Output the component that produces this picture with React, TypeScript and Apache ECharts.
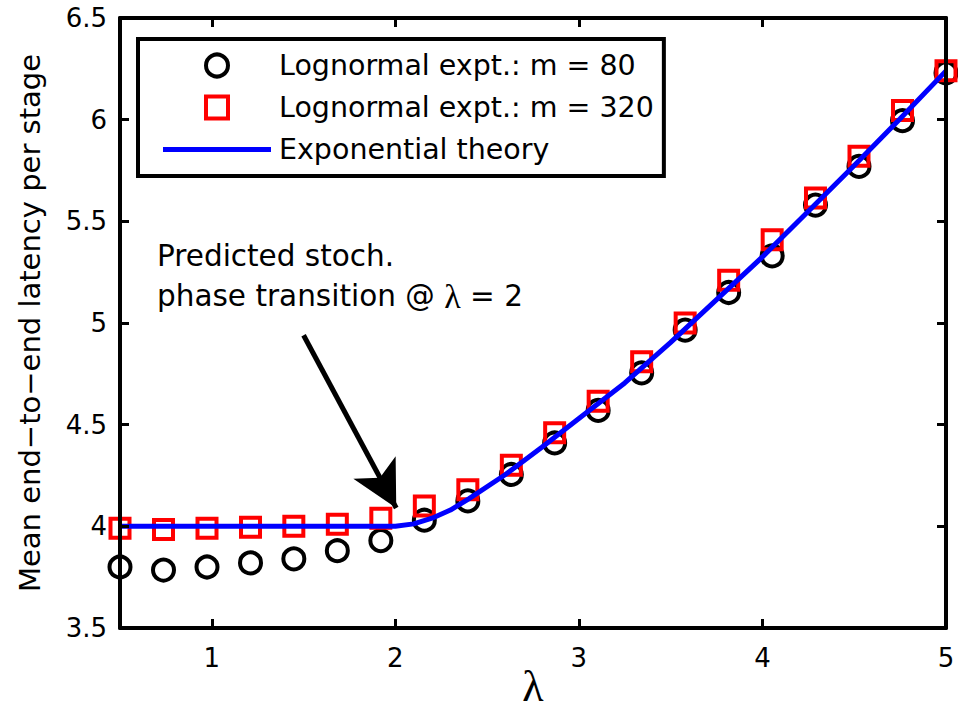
import React, { useEffect, useRef } from "react";
import * as echarts from "echarts";

// lambda values of the experiments
const lambdaX = [0.5, 0.737, 0.974, 1.211, 1.447, 1.684, 1.921, 2.158, 2.395, 2.632, 2.868, 3.105, 3.342, 3.579, 3.816, 4.053, 4.289, 4.526, 4.763, 5.0];
// Lognormal expt., m = 80
const m80 = [3.8, 3.785, 3.8, 3.82, 3.84, 3.88, 3.93, 4.03, 4.125, 4.255, 4.41, 4.57, 4.755, 4.965, 5.15, 5.33, 5.58, 5.77, 5.995, 6.23];
// Lognormal expt., m = 320
const m320 = [3.99, 3.985, 3.99, 3.995, 4.0, 4.01, 4.04, 4.1, 4.18, 4.3, 4.46, 4.615, 4.81, 5.0, 5.21, 5.41, 5.615, 5.82, 6.045, 6.24];
// Exponential theory curve
const theoryX = [0.5, 1.0, 1.5, 1.9, 2.0, 2.1, 2.2, 2.3, 2.4, 2.6, 2.8, 3.0, 3.25, 3.5, 3.75, 4.0, 4.25, 4.5, 4.75, 5.0];
const theoryY = [4.0, 4.0, 4.0, 4.0, 4.0, 4.012, 4.04, 4.08, 4.135, 4.255, 4.39, 4.53, 4.705, 4.905, 5.115, 5.325, 5.55, 5.775, 6.005, 6.24];

const seriesNames = ["Lognormal expt.: m = 80", "Lognormal expt.: m = 320", "Exponential theory"];
const arrowStart = [1.5, 4.94];
const arrowEnd = [2.005, 4.09];

const SANS = '"DejaVu Sans", sans-serif';

export default function App() {
  const ref = useRef<HTMLDivElement>(null);
  useEffect(() => {
    if (!ref.current) return;
    const chart = echarts.init(ref.current, null, { renderer: "svg" });
    const frameAxisX = {
      type: "value",
      min: 0.5,
      max: 5,
      minInterval: 1,
      maxInterval: 1,
      z: 5,
      axisLine: { show: true, onZero: false, lineStyle: { color: "#000", width: 4 } },
      axisTick: { show: true, inside: true, length: 9, lineStyle: { color: "#000", width: 3 } },
      splitLine: { show: false },
    };
    const frameAxisY = {
      type: "value",
      min: 3.5,
      max: 6.5,
      interval: 0.5,
      z: 5,
      axisLine: { show: true, onZero: false, lineStyle: { color: "#000", width: 4 } },
      axisTick: { show: true, inside: true, length: 9, lineStyle: { color: "#000", width: 3 } },
      splitLine: { show: false },
    };
    chart.setOption({
      animation: false,
      backgroundColor: "#fff",
      grid: { left: 120, top: 18, width: 826, height: 610, containLabel: false, outerBoundsMode: "none" },
      xAxis: [
        {
          ...frameAxisX,
          position: "bottom",
          name: "λ",
          nameLocation: "middle",
          nameGap: 41,
          nameMoveOverlap: false,
          nameTextStyle: { fontFamily: '"Liberation Serif", serif', fontSize: 44, lineHeight: 34, color: "#000" },
          axisLabel: { show: true, showMinLabel: false, margin: 17, fontFamily: SANS, fontSize: 26, color: "#000" },
        },
        { ...frameAxisX, position: "top", axisLabel: { show: false } },
      ],
      yAxis: [
        {
          ...frameAxisY,
          position: "left",
          name: "Mean end−to−end latency per stage",
          nameLocation: "middle",
          nameGap: 76,
          nameMoveOverlap: false,
          nameTextStyle: { fontFamily: SANS, fontSize: 29, color: "#000" },
          axisLabel: { show: true, margin: 13, fontFamily: SANS, fontSize: 26, color: "#000" },
        },
        { ...frameAxisY, position: "right", axisLabel: { show: false } },
      ],
      legend: {
        orient: "vertical",
        left: 138,
        top: 39,
        padding: [12, 10, 12, 25],
        itemWidth: 108,
        itemHeight: 22,
        itemGap: 13,
        symbolKeepAspect: true,
        backgroundColor: "#fff",
        borderColor: "#000",
        borderWidth: 4,
        borderRadius: 0,
        textStyle: { fontFamily: SANS, fontSize: 28.5, color: "#000", lineHeight: 28, padding: [0, 0, 0, 3] },
        data: [
          { name: seriesNames[0], icon: "circle", itemStyle: { borderWidth: 4, borderColor: "#000", color: "rgba(255,255,255,0)", opacity: 1 } },
          { name: seriesNames[1], icon: "path://M0,0H19V19H0Z", itemStyle: { borderWidth: 4, borderColor: "#ff0000", color: "rgba(255,255,255,0)", opacity: 1 } },
          { name: seriesNames[2], icon: "path://M0,0H108V5H0Z", itemStyle: { color: "#0000ff", borderWidth: 0, opacity: 1 } },
        ],
      },
      series: [
        {
          name: seriesNames[0],
          type: "scatter",
          symbol: "circle",
          symbolSize: 21,
          itemStyle: { color: "rgba(255,255,255,0)", borderColor: "#000", borderWidth: 4, opacity: 1 },
          data: lambdaX.map((x, i) => [x, m80[i]]),
          z: 2,
        },
        {
          name: seriesNames[1],
          type: "scatter",
          symbol: "rect",
          symbolSize: 19,
          itemStyle: { color: "rgba(255,255,255,0)", borderColor: "#ff0000", borderWidth: 4, opacity: 1 },
          data: lambdaX.map((x, i) => [x, m320[i]]),
          z: 3,
        },
        {
          name: seriesNames[2],
          type: "line",
          symbol: "none",
          showSymbol: false,
          lineStyle: { color: "#0000ff", width: 5 },
          itemStyle: { color: "#0000ff" },
          data: theoryX.map((x, i) => [x, theoryY[i]]),
          z: 4,
          markLine: {
            silent: true,
            animation: false,
            symbol: ["none", "arrow"],
            symbolSize: [36, 46],
            label: { show: false },
            lineStyle: { color: "#000", width: 5, type: "solid" },
            itemStyle: { color: "#000" },
            data: [[{ coord: arrowStart }, { coord: arrowEnd }]],
          },
        },
      ],
      graphic: [
        {
          type: "text",
          x: 157,
          y: 256,
          style: { text: "Predicted stoch.", fontFamily: SANS, fontSize: 29.5, fill: "#000", verticalAlign: "middle" },
        },
        {
          type: "text",
          x: 157,
          y: 296,
          style: {
            text: "phase transition @ {l|λ} = 2",
            fontFamily: SANS,
            fontSize: 29.5,
            fill: "#000",
            verticalAlign: "middle",
            rich: { l: { fontFamily: '"Liberation Serif", serif', fontSize: 34, fill: "#000" } },
          },
        },
      ],
    });
    return () => chart.dispose();
  }, []);
  return <div ref={ref} style={{ position: "absolute", left: 0, top: 0, width: 958, height: 704 }} />;
}
